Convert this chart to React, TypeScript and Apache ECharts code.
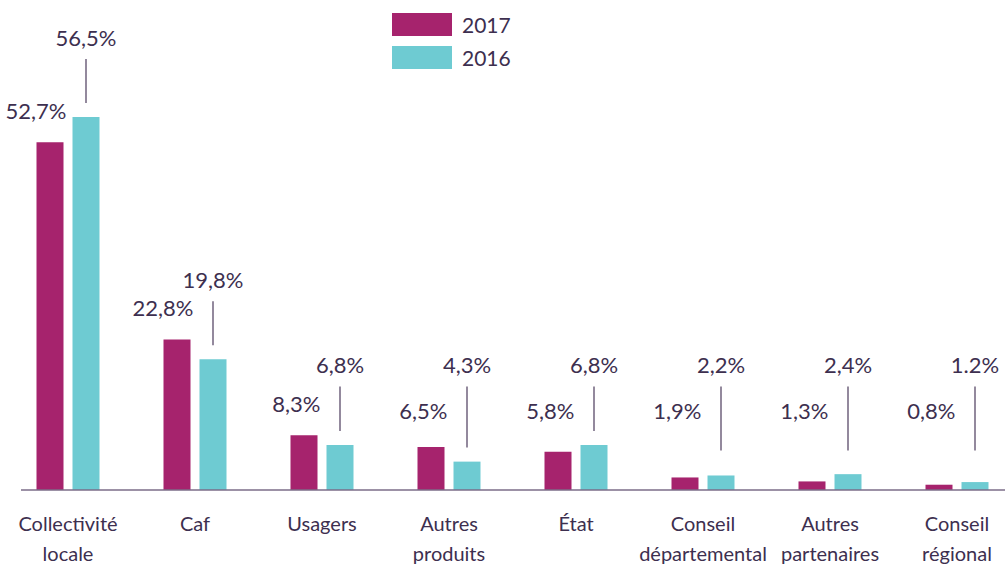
import React, { useEffect, useRef } from "react";
import * as echarts from "echarts";

const categories = [
  "Collectivité\nlocale",
  "Caf",
  "Usagers",
  "Autres\nproduits",
  "État",
  "Conseil\ndépartemental",
  "Autres\npartenaires",
  "Conseil\nrégional",
];
const values2017 = [52.7, 22.8, 8.3, 6.5, 5.8, 1.9, 1.3, 0.8];
const values2016 = [56.5, 19.8, 6.8, 4.3, 6.8, 2.2, 2.4, 1.2];
const labels2017 = ["52,7%", "22,8%", "8,3%", "6,5%", "5,8%", "1,9%", "1,3%", "0,8%"];
const labels2016 = ["56,5%", "19,8%", "6,8%", "4,3%", "6,8%", "2,2%", "2,4%", "1.2%"];

const C2017 = "#a6236d";
const C2016 = "#6ecbd2";
const TEXT = "#3d2f4f";
const LINE = "#6f627c";
const FONT = "Lato";

export default function App() {
  const ref = useRef<HTMLDivElement>(null);
  useEffect(() => {
    if (!ref.current) return;
    const chart = echarts.init(ref.current, null, { renderer: "svg" });
    const BAR_W = 27;
    const GAP = 9;
    chart.setOption({
      animation: false,
      backgroundColor: "#ffffff",
      textStyle: { fontFamily: FONT },
      legend: {
        orient: "vertical",
        left: 392,
        top: 13,
        padding: 0,
        itemWidth: 60,
        itemHeight: 23,
        itemGap: 10,
        icon: "rect",
        data: ["2017", "2016"],
        textStyle: { fontSize: 21, color: TEXT, fontFamily: FONT, padding: [0, 0, 0, 5] },
      },
      grid: {
        left: 4.5,
        width: 1016,
        top: 28,
        height: 462,
        containLabel: false,
        outerBoundsMode: "none",
      },
      xAxis: {
        type: "category",
        data: categories,
        axisLine: { show: false },
        axisTick: { show: false },
        axisLabel: {
          interval: 0,
          margin: 18,
          fontSize: 20,
          lineHeight: 30,
          color: TEXT,
          fontFamily: FONT,
        },
      },
      yAxis: { type: "value", min: 0, max: 70, show: false, splitLine: { show: false } },
      series: [
        {
          name: "2017",
          type: "bar",
          data: values2017,
          barWidth: BAR_W,
          barGap: (GAP / BAR_W) * 100 + "%",
          itemStyle: { color: C2017 },
        },
        {
          name: "2016",
          type: "bar",
          data: values2016,
          barWidth: BAR_W,
          itemStyle: { color: C2016 },
        },
        {
          name: "labels",
          type: "custom",
          silent: true,
          clip: false,
          z: 10,
          data: categories.map((_, i) => [i, values2017[i], values2016[i]]),
          encode: { x: 0, y: [1, 2] },
          renderItem: (params: any, api: any) => {
            const i = api.value(0);
            const v17 = api.value(1);
            const v16 = api.value(2);
            const [cx, base] = api.coord([i, 0]);
            const unit = base - api.coord([i, 1])[1];
            const top17 = api.coord([i, v17])[1];
            const top16 = api.coord([i, v16])[1];
            const right17 = cx - GAP / 2;
            const center16 = cx + GAP / 2 + BAR_W / 2;
            const y17 = Math.min(top17 - 32, base - 12 * unit);
            const y16 = Math.min(top16 - 80, base - 19 * unit);
            const lineTop = y16 + 22;
            const lineBottom = Math.min(top16 - 14, base - 6 * unit);
            const font = `22px ${FONT}`;
            return {
              type: "group",
              children: [
                {
                  type: "text",
                  x: right17 + 3,
                  y: y17,
                  style: {
                    text: labels2017[params.dataIndex],
                    fill: TEXT,
                    font,
                    align: "right",
                    verticalAlign: "middle",
                    textAlign: "right",
                    textVerticalAlign: "middle",
                  },
                },
                {
                  type: "text",
                  x: center16,
                  y: y16,
                  style: {
                    text: labels2016[params.dataIndex],
                    fill: TEXT,
                    font,
                    align: "center",
                    verticalAlign: "middle",
                    textAlign: "center",
                    textVerticalAlign: "middle",
                  },
                },
                {
                  type: "line",
                  shape: { x1: center16, y1: lineTop, x2: center16, y2: lineBottom },
                  style: { stroke: LINE, lineWidth: 1.5 },
                },
              ],
            };
          },
        },
      ],
    });
    const y0 = chart.convertToPixel({ yAxisIndex: 0 }, 0) as number;
    chart.setOption({
      graphic: [
        {
          type: "line",
          z: 20,
          shape: { x1: 21, y1: y0, x2: 1005, y2: y0 },
          style: { stroke: "#7b6d88", lineWidth: 1.5 },
        },
      ],
    });
    return () => chart.dispose();
  }, []);
  return (
    <div
      ref={ref}
      style={{ position: "absolute", left: 0, top: 0, width: 1005, height: 564 }}
    />
  );
}
